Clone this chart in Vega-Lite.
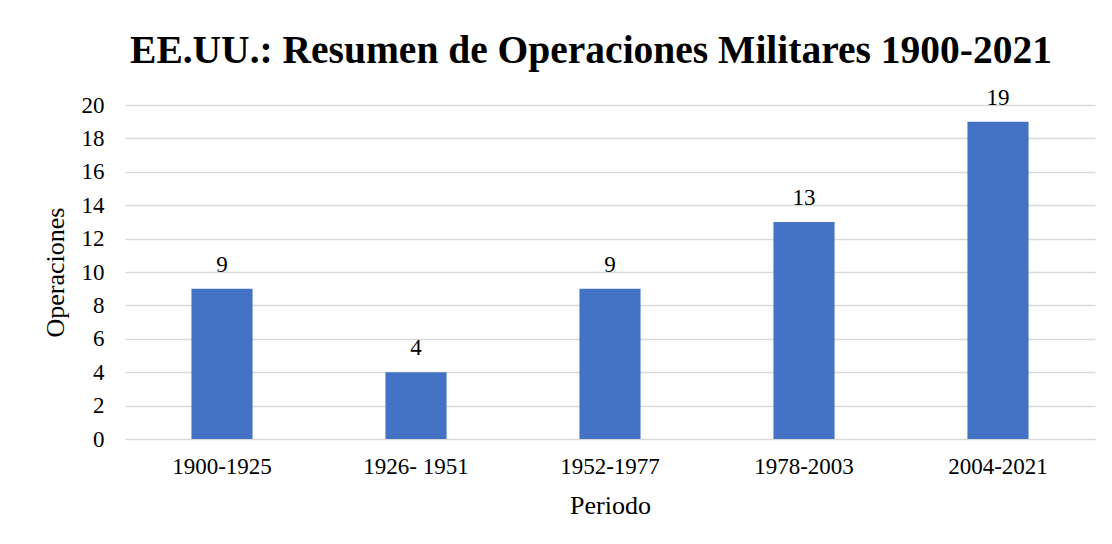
{
  "$schema": "https://vega.github.io/schema/vega-lite/v6.json",
  "autosize": "none",
  "width": 970,
  "height": 334,
  "padding": {"left": 125, "top": 105, "right": 17, "bottom": 105},
  "background": "white",
  "title": {
    "text": "EE.UU.: Resumen de Operaciones Militares 1900-2021",
    "font": "Liberation Serif",
    "fontSize": 39.5,
    "fontWeight": "bold",
    "color": "#000000",
    "anchor": "middle",
    "dx": -19,
    "offset": 15
  },
  "data": {
    "values": [
      {"Periodo": "1900-1925", "Operaciones": 9},
      {"Periodo": "1926- 1951", "Operaciones": 4},
      {"Periodo": "1952-1977", "Operaciones": 9},
      {"Periodo": "1978-2003", "Operaciones": 13},
      {"Periodo": "2004-2021", "Operaciones": 19}
    ]
  },
  "encoding": {
    "x": {
      "field": "Periodo",
      "type": "nominal",
      "sort": null,
      "scale": {"paddingInner": 0, "paddingOuter": 0},
      "axis": {
        "title": "Periodo",
        "labelAngle": 0,
        "labelFont": "Liberation Serif",
        "labelFontSize": 23,
        "labelColor": "#000000",
        "labelPadding": 16,
        "titleFont": "Liberation Serif",
        "titleFontSize": 26,
        "titleFontWeight": "normal",
        "titleColor": "#000000",
        "titlePadding": 14,
        "ticks": false,
        "domain": false,
        "grid": false
      }
    },
    "y": {
      "field": "Operaciones",
      "type": "quantitative",
      "scale": {"domain": [0, 20], "nice": false},
      "axis": {
        "title": "Operaciones",
        "values": [0, 2, 4, 6, 8, 10, 12, 14, 16, 18, 20],
        "labelFont": "Liberation Serif",
        "labelFontSize": 23,
        "labelColor": "#000000",
        "labelPadding": 21,
        "titleFont": "Liberation Serif",
        "titleFontSize": 26,
        "titleFontWeight": "normal",
        "titleColor": "#000000",
        "titlePadding": 13,
        "ticks": false,
        "domain": false,
        "grid": true,
        "gridColor": "#d9d9d9",
        "gridWidth": 1.5
      }
    }
  },
  "layer": [
    {
      "mark": {"type": "bar", "color": "#4472C4", "width": {"band": 0.315}}
    },
    {
      "mark": {"type": "text", "font": "Liberation Serif", "fontSize": 23, "color": "#000000", "baseline": "alphabetic", "dy": -17},
      "encoding": {"text": {"field": "Operaciones", "type": "quantitative"}}
    }
  ],
  "config": {"view": {"stroke": null}}
}
